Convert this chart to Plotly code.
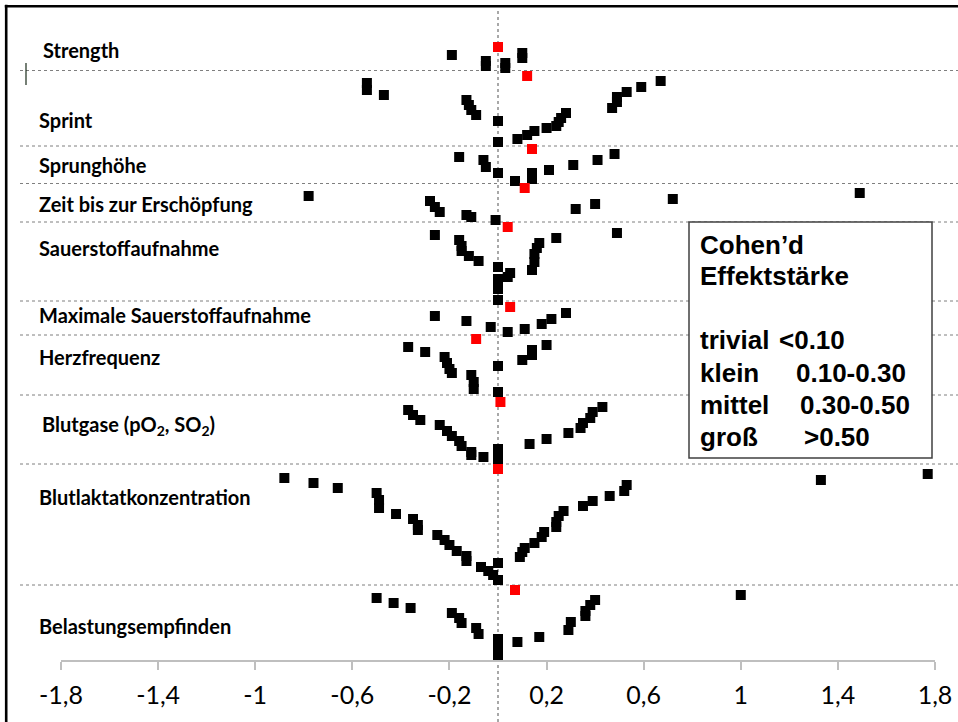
import plotly.graph_objects as go

# ---------------- data (effect size d, vertical row position) ----------------
tick_vals = [-1.8, -1.4, -1.0, -0.6, -0.2, 0.2, 0.6, 1.0, 1.4, 1.8]
tick_text = ["-1,8", "-1,4", "-1", "-0,6", "-0,2", "0,2", "0,6", "1", "1,4", "1,8"]

group_names = ["Strength", "Sprint", "Sprunghöhe", "Zeit bis zur Erschöpfung",
               "Sauerstoffaufnahme", "Maximale Sauerstoffaufnahme", "Herzfrequenz",
               "Blutgase (pO<sub>2</sub>, SO<sub>2</sub>)", "Blutlaktatkonzentration",
               "Belastungsempfinden"]
label_pos = [50, 120, 165, 204, 248, 315, 357, 425, 497, 626]
separator_pos = [70.5, 146, 183.5, 222, 301, 335, 395, 464, 585]

strength_d = [-0.19, -0.05, -0.05, 0.03, 0.03, 0.10, 0.10]
strength_pos = [55, 61, 66, 63, 68, 53, 58]

sprint_d = [-0.54, -0.54, -0.47, -0.13, -0.12, -0.11, -0.09, 0.00, 0.00, 0.08, 0.12,
            0.15, 0.20, 0.24, 0.25, 0.26, 0.28, 0.47, 0.49, 0.49, 0.53, 0.59, 0.67]
sprint_pos = [83, 90, 95, 100, 105, 110, 115, 121, 142, 139, 135,
              131, 128, 126, 122, 118, 113, 108, 102, 97, 92, 87, 81]

sprung_d = [-0.16, -0.06, -0.05, 0.00, 0.07, 0.14, 0.14, 0.21, 0.31, 0.41, 0.48]
sprung_pos = [157, 160, 167, 173, 181, 173, 179, 170, 165, 160, 154]

zeit_d = [-0.78, -0.28, -0.26, -0.24, -0.13, -0.11, -0.01, 0.32, 0.40, 0.72, 1.49]
zeit_pos = [196, 201, 207, 212, 215, 217, 220, 209, 204, 199, 193]

vo2_d = [-0.26, -0.16, -0.15, -0.15, -0.12, -0.08, 0.00, 0.00, 0.00, 0.00,
         0.04, 0.05, 0.14, 0.15, 0.15, 0.16, 0.17, 0.24, 0.49]
vo2_pos = [235, 240, 246, 251, 256, 261, 267, 279, 289, 300,
           277, 273, 270, 262, 254, 248, 243, 238, 233]

vo2max_d = [-0.26, -0.13, -0.03, 0.04, 0.11, 0.18, 0.22, 0.28]
vo2max_pos = [316, 321, 327, 332, 329, 324, 319, 313]

hf_d = [-0.37, -0.30, -0.22, -0.21, -0.20, -0.19, -0.11, -0.10, -0.10, 0.00, 0.00,
        0.10, 0.14, 0.14, 0.20]
hf_pos = [347, 352, 357, 363, 369, 373, 375, 382, 389, 366, 392,
          360, 355, 350, 345]

gas_d = [-0.37, -0.35, -0.32, -0.24, -0.21, -0.19, -0.16, -0.15, -0.11, -0.11, -0.06,
         0.00, 0.00, 0.13, 0.20, 0.29, 0.34, 0.35, 0.38, 0.39, 0.43]
gas_pos = [410, 415, 420, 425, 431, 436, 441, 446, 452, 455, 457,
           449, 459, 444, 439, 433, 428, 423, 418, 412, 407]

lakt_d = [-0.88, -0.76, -0.66, -0.50, -0.49, -0.49, -0.42, -0.35, -0.33, -0.33, -0.25,
          -0.22, -0.20, -0.17, -0.13, -0.13, -0.07, -0.04, -0.02, 0.00, 0.00,
          0.09, 0.10, 0.11, 0.15, 0.18, 0.19, 0.24, 0.24, 0.25, 0.27, 0.35, 0.39,
          0.46, 0.52, 0.53, 1.33, 1.77]
lakt_pos = [478, 483, 488, 493, 500, 508, 514, 519, 525, 530, 535,
            540, 545, 551, 556, 561, 567, 571, 575, 563, 580,
            557, 552, 548, 543, 537, 532, 527, 522, 516, 511, 506, 501,
            496, 491, 485, 480, 474]

rpe_d = [-0.50, -0.43, -0.36, -0.19, -0.16, -0.15, -0.09, -0.08, 0.00, 0.00, 0.00,
         0.08, 0.17, 0.29, 0.30, 0.36, 0.36, 0.38, 0.40, 1.00]
rpe_pos = [598, 603, 608, 613, 618, 623, 628, 634, 639, 649, 658,
           642, 637, 630, 622, 616, 611, 605, 600, 595]

mean_d = [0.00, 0.12, 0.14, 0.11, 0.04, 0.05, -0.09, 0.01, 0.00, 0.07]
mean_pos = [47, 76, 149, 188, 227, 307, 339, 402, 469, 590]

legend_title = ["Cohen’d", "Effektstärke"]
legend_class = ["trivial", "klein", "mittel", "groß"]
legend_range = ["<0.10", "0.10-0.30", "0.30-0.50", ">0.50"]

# ---------------- layout helpers ----------------
W, H = 958, 722
ML, MR, MT, MB = 61, 23, 0, 62
PW, PH = W - ML - MR, H - MT - MB


def px(xp):
    return (xp - ML) / PW


def py(yp):
    return (PH + MT - yp) / PH


fig = go.Figure()

all_d = [strength_d, sprint_d, sprung_d, zeit_d, vo2_d, vo2max_d, hf_d, gas_d, lakt_d, rpe_d]
all_pos = [strength_pos, sprint_pos, sprung_pos, zeit_pos, vo2_pos, vo2max_pos, hf_pos,
           gas_pos, lakt_pos, rpe_pos]
for d, p in zip(all_d, all_pos):
    fig.add_trace(go.Scatter(x=d, y=p, mode="markers", showlegend=False,
                             marker=dict(symbol="square", size=10, color="black",
                                         line=dict(width=0))))
fig.add_trace(go.Scatter(x=mean_d, y=mean_pos, mode="markers", showlegend=False,
                         marker=dict(symbol="square", size=10, color="#FF0000",
                                     line=dict(width=0))))

shapes = []
for s in separator_pos:
    shapes.append(dict(type="line", xref="paper", yref="y", x0=px(20), x1=px(960),
                       y0=s, y1=s, layer="below",
                       line=dict(color="#7f7f7f", width=1, dash="dot")))
shapes.append(dict(type="line", xref="x", yref="paper", x0=0, x1=0, y0=py(722),
                   y1=py(10), layer="below",
                   line=dict(color="#8c8c8c", width=1.5, dash="dot")))
# frame
shapes.append(dict(type="line", xref="paper", yref="paper", x0=px(6.2), x1=px(6.2),
                   y0=py(4.8), y1=py(740), line=dict(color="black", width=2.6)))
shapes.append(dict(type="line", xref="paper", yref="paper", x0=px(4.8), x1=px(970),
                   y0=py(6.2), y1=py(6.2), line=dict(color="black", width=2.6)))
shapes.append(dict(type="line", xref="paper", yref="paper", x0=px(26), x1=px(26),
                   y0=py(63), y1=py(85), line=dict(color="#1a2a1a", width=1.2)))
# legend box
shapes.append(dict(type="rect", xref="paper", yref="paper", x0=px(689), x1=px(932),
                   y0=py(458), y1=py(222), fillcolor="white", layer="above",
                   line=dict(color="#404040", width=1.5)))

annotations = []
for name, pos in zip(group_names, label_pos):
    xx = 40 if name.startswith("Blutgase") else (41 if name == "Strength" else 37)
    annotations.append(dict(text="<b>" + name + "</b>", xref="paper", yref="y",
                            x=px(xx), y=pos, xanchor="left", yanchor="middle",
                            showarrow=False,
                            font=dict(family="Lato", size=20, color="black")))

legend_font = dict(family="Liberation Sans", size=26, color="black")
for t, yy in zip(legend_title, [245, 276]):
    annotations.append(dict(text="<b>" + t + "</b>", xref="paper", yref="paper",
                            x=px(698), y=py(yy), xanchor="left", yanchor="middle",
                            showarrow=False, font=legend_font))
for c, r, yy, xr in zip(legend_class, legend_range, [340, 373, 405, 437],
                        [777, 794, 798, 802]):
    annotations.append(dict(text="<b>" + c + "</b>", xref="paper", yref="paper",
                            x=px(698), y=py(yy), xanchor="left", yanchor="middle",
                            showarrow=False, font=legend_font))
    annotations.append(dict(text="<b>" + r + "</b>", xref="paper", yref="paper",
                            x=px(xr), y=py(yy), xanchor="left", yanchor="middle",
                            showarrow=False, font=legend_font))

fig.update_layout(
    width=W, height=H,
    margin=dict(l=ML, r=MR, t=MT, b=MB, pad=0),
    paper_bgcolor="white", plot_bgcolor="white",
    shapes=shapes, annotations=annotations,
    xaxis=dict(range=[-1.8, 1.8], tickvals=tick_vals, ticktext=tick_text,
               showgrid=False, zeroline=False, showline=True,
               linecolor="#bfbfbf", linewidth=2, ticks="outside", ticklen=8,
               tickcolor="#bfbfbf", tickwidth=1.5,
               tickfont=dict(family="Lato", size=25, color="black"),
               ticklabelstandoff=4),
    yaxis=dict(range=[660, 0], visible=False, showgrid=False, zeroline=False),
)

fig.write_html("out.html")
